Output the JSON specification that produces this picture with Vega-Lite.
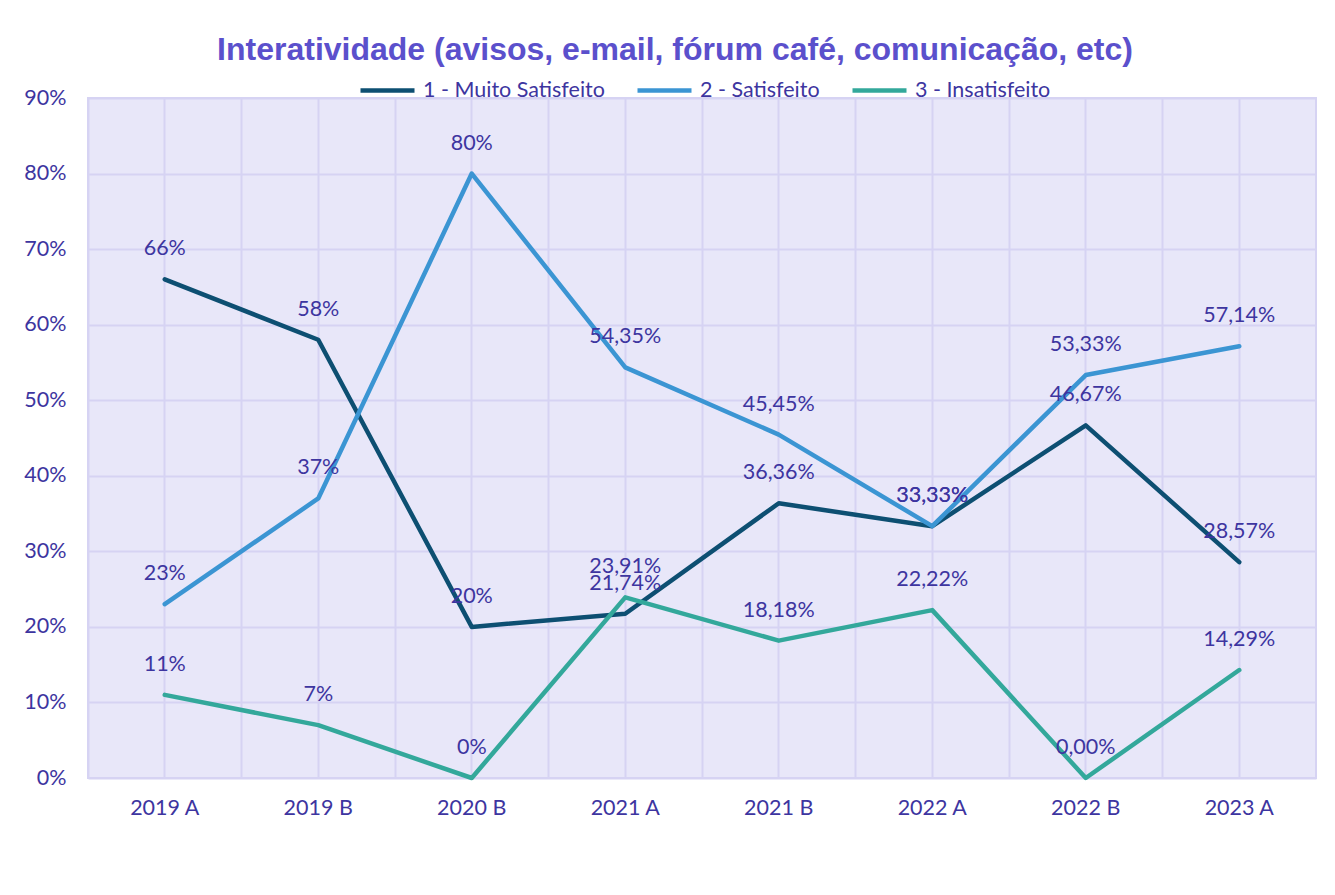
{
  "$schema": "https://vega.github.io/schema/vega-lite/v6.json",
  "width": 1228,
  "height": 680,
  "autosize": {"type": "none"},
  "padding": {"left": 88, "top": 98, "right": 19, "bottom": 117},
  "background": "white",
  "title": {
    "text": "Interatividade (avisos, e-mail, fórum café, comunicação, etc)",
    "font": "Liberation Sans",
    "fontSize": 32,
    "fontWeight": "bold",
    "color": "#5b50cc",
    "anchor": "middle",
    "frame": "group",
    "baseline": "alphabetic",
    "offset": 0,
    "dy": 31,
    "dx": -27
  },
  "config": {
    "font": "Lato",
    "view": {"fill": "#e8e7f9", "stroke": "#d6d3f3", "strokeWidth": 2}
  },
  "data": {
    "values": [
      {"periodo": "2019 A", "serie": "1 - Muito Satisfeito", "valor": 0.66, "rotulo": "66%"},
      {"periodo": "2019 B", "serie": "1 - Muito Satisfeito", "valor": 0.58, "rotulo": "58%"},
      {"periodo": "2020 B", "serie": "1 - Muito Satisfeito", "valor": 0.20, "rotulo": "20%"},
      {"periodo": "2021 A", "serie": "1 - Muito Satisfeito", "valor": 0.2174, "rotulo": "21,74%"},
      {"periodo": "2021 B", "serie": "1 - Muito Satisfeito", "valor": 0.3636, "rotulo": "36,36%"},
      {"periodo": "2022 A", "serie": "1 - Muito Satisfeito", "valor": 0.3333, "rotulo": "33,33%"},
      {"periodo": "2022 B", "serie": "1 - Muito Satisfeito", "valor": 0.4667, "rotulo": "46,67%"},
      {"periodo": "2023 A", "serie": "1 - Muito Satisfeito", "valor": 0.2857, "rotulo": "28,57%"},
      {"periodo": "2019 A", "serie": "2 - Satisfeito", "valor": 0.23, "rotulo": "23%"},
      {"periodo": "2019 B", "serie": "2 - Satisfeito", "valor": 0.37, "rotulo": "37%"},
      {"periodo": "2020 B", "serie": "2 - Satisfeito", "valor": 0.80, "rotulo": "80%"},
      {"periodo": "2021 A", "serie": "2 - Satisfeito", "valor": 0.5435, "rotulo": "54,35%"},
      {"periodo": "2021 B", "serie": "2 - Satisfeito", "valor": 0.4545, "rotulo": "45,45%"},
      {"periodo": "2022 A", "serie": "2 - Satisfeito", "valor": 0.3333, "rotulo": "33,33%"},
      {"periodo": "2022 B", "serie": "2 - Satisfeito", "valor": 0.5333, "rotulo": "53,33%"},
      {"periodo": "2023 A", "serie": "2 - Satisfeito", "valor": 0.5714, "rotulo": "57,14%"},
      {"periodo": "2019 A", "serie": "3 - Insatisfeito", "valor": 0.11, "rotulo": "11%"},
      {"periodo": "2019 B", "serie": "3 - Insatisfeito", "valor": 0.07, "rotulo": "7%"},
      {"periodo": "2020 B", "serie": "3 - Insatisfeito", "valor": 0.0, "rotulo": "0%"},
      {"periodo": "2021 A", "serie": "3 - Insatisfeito", "valor": 0.2391, "rotulo": "23,91%"},
      {"periodo": "2021 B", "serie": "3 - Insatisfeito", "valor": 0.1818, "rotulo": "18,18%"},
      {"periodo": "2022 A", "serie": "3 - Insatisfeito", "valor": 0.2222, "rotulo": "22,22%"},
      {"periodo": "2022 B", "serie": "3 - Insatisfeito", "valor": 0.0, "rotulo": "0,00%"},
      {"periodo": "2023 A", "serie": "3 - Insatisfeito", "valor": 0.1429, "rotulo": "14,29%"}
    ]
  },
  "resolve": {"axis": {"x": "independent"}},
  "layer": [
    {
      "mark": {"type": "line", "strokeWidth": 4.5, "strokeJoin": "round", "strokeCap": "round"},
      "encoding": {
        "x": {
          "field": "periodo", "type": "ordinal", "sort": null,
          "scale": {"type": "band", "paddingInner": 0, "paddingOuter": 0},
          "axis": {
            "orient": "bottom", "title": null, "domain": false, "ticks": false,
            "grid": true, "gridColor": "#d6d3f3", "gridWidth": 2, "bandPosition": 0.5,
            "labelAngle": 0, "labelFontSize": 21.5, "labelColor": "#3d35a0", "labelPadding": 19
          }
        },
        "y": {
          "field": "valor", "type": "quantitative",
          "scale": {"domain": [0, 0.9], "nice": false},
          "axis": {
            "title": null, "domain": false, "ticks": false,
            "values": [0, 0.1, 0.2, 0.3, 0.4, 0.5, 0.6, 0.7, 0.8, 0.9],
            "format": ".0%", "grid": true, "gridColor": "#d6d3f3", "gridWidth": 2,
            "labelFontSize": 21.5, "labelColor": "#3d35a0", "labelPadding": 22
          }
        },
        "color": {
          "field": "serie", "type": "nominal",
          "scale": {
            "domain": ["1 - Muito Satisfeito", "2 - Satisfeito", "3 - Insatisfeito"],
            "range": ["#0d4f72", "#3b95d3", "#33a89b"]
          },
          "legend": {
            "orient": "none", "legendX": 270, "legendY": -37, "direction": "horizontal",
            "title": null, "symbolType": "stroke", "symbolSize": 2916, "symbolStrokeWidth": 4.5,
            "labelFontSize": 21.5, "labelColor": "#3d35a0", "labelOffset": 6, "columnPadding": 23,
            "labelLimit": 400
          }
        }
      }
    },
    {
      "mark": {"type": "text", "dy": -30, "fontSize": 21.5, "color": "#3d35a0", "align": "center", "baseline": "middle"},
      "encoding": {
        "x": {
          "field": "periodo", "type": "ordinal", "sort": null,
          "axis": {
            "orient": "bottom", "title": null, "domain": false, "ticks": false, "labels": false,
            "grid": true, "gridColor": "#d6d3f3", "gridWidth": 2, "bandPosition": 0
          }
        },
        "y": {"field": "valor", "type": "quantitative"},
        "text": {"field": "rotulo"}
      }
    }
  ]
}
